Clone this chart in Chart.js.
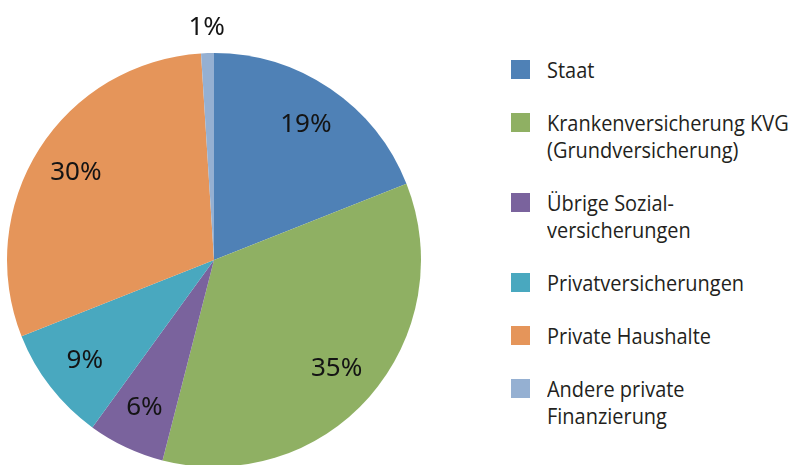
<!DOCTYPE html>
<html>
<head>
<meta charset="utf-8">
<script src="https://cdn.jsdelivr.net/npm/chart.js@4.4.0/dist/chart.umd.min.js"></script>
<style>
  html, body { margin: 0; padding: 0; background: #fff; overflow: hidden; width: 788px; height: 465px; }
  #pie { position: absolute; left: 0; top: 0; }
  #legend { position: absolute; left: 511px; top: 57px; font-family: "Open Sans", sans-serif; font-size: 21px; color: #231f20; }
  .item { display: flex; align-items: flex-start; margin-bottom: 26px; }
  .box { width: 19px; height: 19px; margin-top: 3px; flex: none; }
  .txt { margin-left: 17px; line-height: 27px; transform: scaleX(0.95); transform-origin: left top; white-space: nowrap; }
</style>
</head>
<body>
<canvas id="pie" width="428" height="520"></canvas>
<div id="legend"></div>
<script>
// DATA
const categories = ['Staat', 'Krankenversicherung KVG\n(Grundversicherung)', 'Übrige Sozial-\nversicherungen', 'Privatversicherungen', 'Private Haushalte', 'Andere private\nFinanzierung'];
const shares = [19, 35, 6, 9, 30, 1];
const sliceColors = ['#4f81b6', '#8fb063', '#7a639d', '#49a8bf', '#e5955a', '#95b0d2'];

// HTML LEGEND
function buildLegend() {
    let legend = document.getElementById('legend');
    categories.forEach((name, i) => {
        let item = document.createElement('div');
        item.className = 'item';
        let box = document.createElement('div');
        box.className = 'box';
        box.style.background = sliceColors[i];
        let txt = document.createElement('div');
        txt.className = 'txt';
        txt.innerHTML = name.split('\n').join('<br>');
        item.appendChild(box);
        item.appendChild(txt);
        legend.appendChild(item);
    });
}

// PERCENT LABELS ON THE SLICES
const percentLabels = {
    id: 'percentLabels',
    afterDatasetsDraw(chart) {
        const ctx = chart.ctx;
        const meta = chart.getDatasetMeta(0);
        ctx.save();
        ctx.font = '26px "Noto Sans", sans-serif';
        ctx.fillStyle = '#141414';
        ctx.textAlign = 'center';
        ctx.textBaseline = 'middle';
        meta.data.forEach((arc, i) => {
            const mid = (arc.startAngle + arc.endAngle) / 2;
            const r = shares[i] < 3 ? arc.outerRadius * 1.125 : arc.outerRadius * 0.79;
            const x = arc.x + Math.cos(mid) * r;
            const y = arc.y + Math.sin(mid) * r;
            ctx.fillText(shares[i] + '%', x, y);
        });
        ctx.restore();
    }
};

window.onload = () => {
    buildLegend();
    new Chart(document.getElementById('pie'), {
        type: 'pie',
        data: {
            labels: categories,
            datasets: [{
                data: shares,
                backgroundColor: sliceColors,
                borderWidth: 0
            }]
        },
        options: {
            responsive: false,
            animation: false,
            layout: { padding: { top: 53, bottom: 53, left: 0, right: 0 } },
            plugins: {
                legend: { display: false },
                tooltip: { enabled: false }
            }
        },
        plugins: [percentLabels]
    });
};
</script>
</body>
</html>
